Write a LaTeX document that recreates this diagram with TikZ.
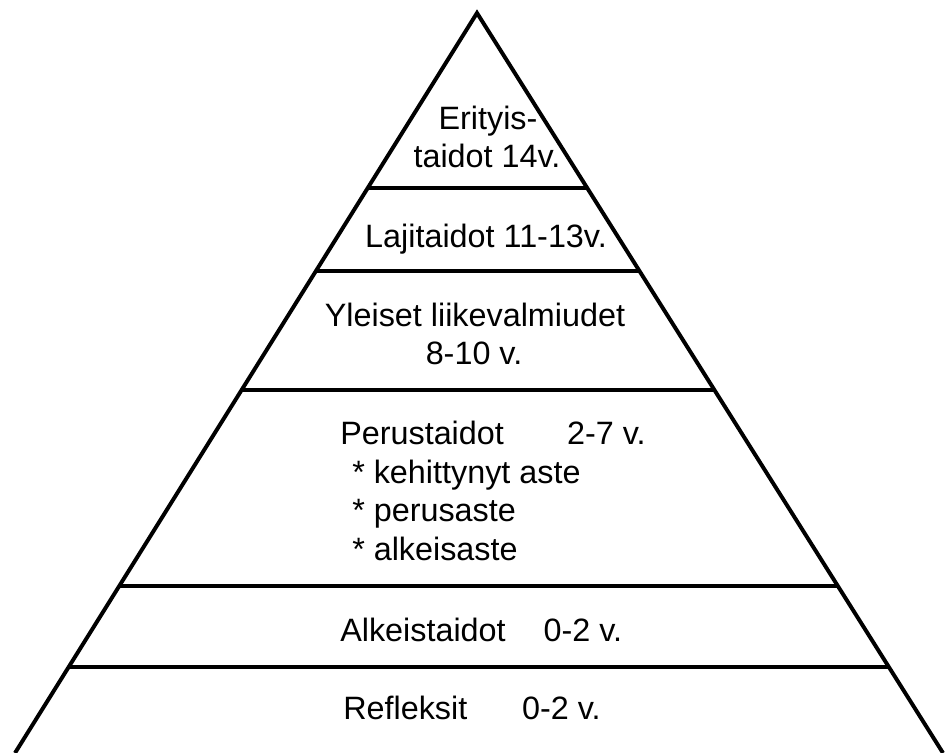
\documentclass[tikz,border=0pt]{standalone}
\usepackage{fontspec}
\setmainfont{Liberation Sans}
\usetikzlibrary{calc}

\begin{document}
\begin{tikzpicture}[
  x=0.025cm, y=-0.025cm,
  edge/.style={line width=2.8pt, line join=miter},
  txt/.style={anchor=base, inner sep=0pt},
  txtl/.style={anchor=base west, inner sep=0pt},
  every node/.style={font=\fontsize{23}{27}\selectfont}
]
\clip (0,0) rectangle (948,753);

% Outline
\coordinate (apex) at (477,13);
\coordinate (bl) at (15,753);
\coordinate (br) at (943,753);
\draw[edge] (bl) -- (apex) -- (br);

% Levels
\foreach \t in {0.2365,0.3486,0.5095,0.7743,0.8838}
  \draw[edge] ($(apex)!\t!(bl)$) -- ($(apex)!\t!(br)$);

% Texts
\node[txt] (erit1) at (488,130) {Erityis-};
\node[txt] (erit2) at (487,168) {taidot 14v.};
\node[txt] (laji) at (486,248) {Lajitaidot 11-13v.};
\node[txt] (ylei1) at (475,327) {Yleiset liikevalmiudet};
\node[txt] (ylei2) at (474,365) {8-10 v.};
\node[txtl] (perus) at (340,445) {Perustaidot\hspace{45pt}2-7 v.};
\node[txtl] (keh) at (352,484) {* kehittynyt aste};
\node[txtl] (pas) at (352,522) {* perusaste};
\node[txtl] (alas) at (352,561) {* alkeisaste};
\node[txtl] (alke) at (340,642) {Alkeistaidot\hspace{27pt}0-2 v.};
\node[txtl] (refl) at (343,720) {Refleksit\hspace{39pt}0-2 v.};

\end{tikzpicture}
\end{document}
